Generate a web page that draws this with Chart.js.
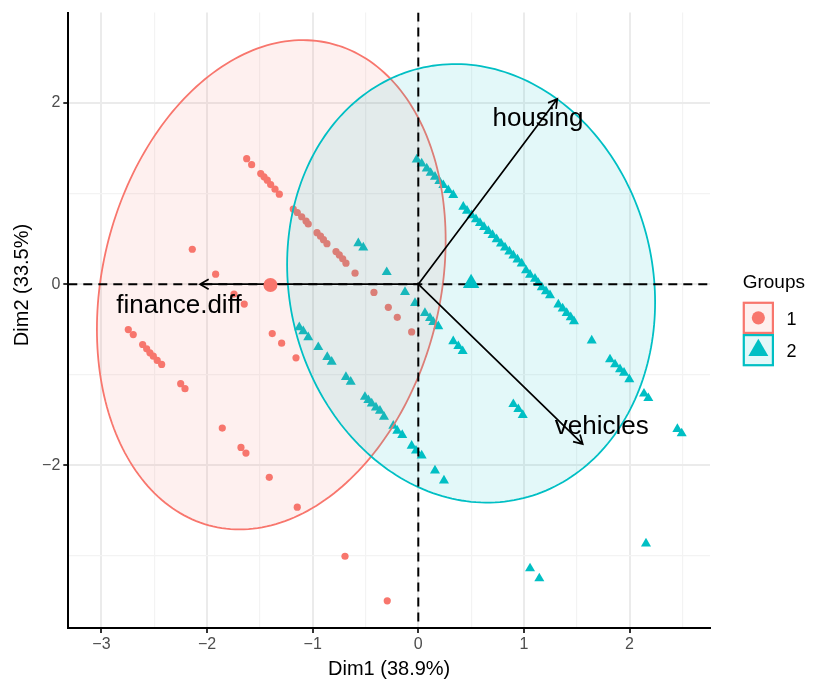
<!DOCTYPE html>
<html>
<head>
<meta charset="utf-8">
<script src="https://cdn.jsdelivr.net/npm/chart.js@4.4.1/dist/chart.umd.min.js"></script>
<style>
  html, body { margin: 0; padding: 0; background: #ffffff; }
  canvas { display: block; }
</style>
</head>
<body>
<canvas id="biplot" width="814" height="684"></canvas>
<script>
// Individual coordinates on the first two dimensions, group 1
const g1X = [-1.625, -1.578, -1.492, -1.461, -1.430, -1.398, -1.357, -1.316, -1.184, -1.146,
             -1.104, -1.063, -1.042, -0.959, -0.926, -0.898, -0.865, -0.779, -0.748, -0.716,
             -0.685, -0.599, -2.140, -1.919, -1.745, -1.648, -0.420, -0.284, -0.199, -0.063,
             -2.746, -2.699, -2.610, -2.572, -2.541, -2.509, -2.472, -2.430, -2.250, -2.209,
             -1.856, -1.679, -1.632, -1.411, -1.146, -0.694, -0.294, -1.383, -1.294, -1.158];
const g1Y = [1.385, 1.319, 1.220, 1.184, 1.147, 1.099, 1.048, 0.993, 0.829, 0.791,
             0.744, 0.697, 0.664, 0.568, 0.530, 0.491, 0.447, 0.359, 0.323, 0.279,
             0.231, 0.121, 0.385, 0.110, -0.110, -0.220, -0.091, -0.256, -0.366, -0.527,
             -0.501, -0.556, -0.666, -0.714, -0.758, -0.795, -0.842, -0.886, -1.099, -1.154,
             -1.589, -1.802, -1.864, -2.132, -2.462, -3.003, -3.495, -0.545, -0.652, -0.813];

// Individual coordinates, group 2
const g2X = [-0.015, 0.032, 0.080, 0.117, 0.158, 0.199, 0.237, 0.284, 0.331,
             0.426, 0.461, 0.504, 0.546, 0.584, 0.622, 0.663, 0.703, 0.742, 0.783,
             0.821, 0.862, 0.900, 0.939, 0.979, 1.020, 1.058, 1.105, 1.136, 1.169,
             1.209, 1.247, 1.326, 1.367, 1.405, 1.443, 1.474,
             1.642, 1.815, 1.863, 1.910, 1.948, 1.998, 2.137, 2.178, 2.453, 2.494,
             2.156, 1.058, 1.146, 0.900, 0.947, 0.989, 0.331, 0.379, 0.420,
             0.063, 0.111, 0.142, 0.189, -0.031, -0.126, -0.299, -0.568, -0.521,
             -1.127, -1.089, -1.042, -0.947, -0.862, -0.820, -0.685, -0.640, -0.505, -0.473,
             -0.441, -0.401, -0.363, -0.325, -0.237, -0.199, -0.152, -0.063, -0.022, 0.032,
             0.158, 0.243];
const g2Y = [1.374, 1.330, 1.275, 1.227, 1.184, 1.136, 1.092, 1.037, 0.982,
             0.854, 0.810, 0.760, 0.716, 0.673, 0.629, 0.585, 0.541, 0.495, 0.447,
             0.403, 0.359, 0.315, 0.271, 0.227, 0.151, 0.103, 0.059, 0.011, -0.036,
             -0.080, -0.124, -0.226, -0.270, -0.319, -0.366, -0.410,
             -0.622, -0.831, -0.886, -0.941, -0.978, -1.051, -1.209, -1.259, -1.600, -1.648,
             -2.864, -3.138, -3.248, -1.325, -1.380, -1.446, -0.630, -0.685, -0.740,
             -0.319, -0.374, -0.418, -0.465, -0.209, -0.088, 0.132, 0.451, 0.403,
             -0.476, -0.520, -0.586, -0.696, -0.805, -0.857, -1.025, -1.077, -1.245, -1.281,
             -1.319, -1.363, -1.399, -1.465, -1.564, -1.619, -1.665, -1.784, -1.838, -1.893,
             -2.058, -2.168];

// Group names and group mean points
const groupNames = ['1', '2'];
const centroidX = [-1.40, 0.50];
const centroidY = [-0.01, 0.01];

// Variable loadings (arrow tips) and their label anchors
const varNames = ['finance.diff', 'housing', 'vehicles'];
const varX = [-2.067, 1.316, 1.557];
const varY = [0.000, 2.044, -1.765];
const varLabelX = [-2.266, 1.133, 1.737];
const varLabelY = [-0.319, 1.744, -1.655];

// Concentration ellipses: centre and scaled covariance terms
const ellCx = [-1.392, 0.500];
const ellCy = [-0.007, 0.009];
const ellSxx = [2.726, 3.035];
const ellSxy = [0.810, -0.363];
const ellSyy = [7.290, 5.856];

// Axis ranges and labelled ticks
const xRange = [-3.314, 2.762];
const yRange = [-3.795, 2.997];
const xTickLabels = [-3, -2, -1, 0, 1, 2];
const yTickLabels = [-2, 0, 2];
const xTitle = 'Dim1 (38.9%)';
const yTitle = 'Dim2 (33.5%)';
const legendTitle = 'Groups';

const COLORS = ['#F8766D', '#00BFC4'];
const FONT = '"Liberation Sans", Arial, Helvetica, sans-serif';

function rgba(hex, a) {
  const n = parseInt(hex.slice(1), 16);
  return `rgba(${(n >> 16) & 255},${(n >> 8) & 255},${n & 255},${a})`;
}
function fmt(v) {
  return v < 0 ? '\u2212' + Math.abs(v) : String(v);
}
function isLabelled(v, list) {
  return list.some(t => Math.abs(t - v) < 1e-9);
}
function toPoints(xs, ys) {
  return xs.map((x, i) => ({ x: x, y: ys[i] }));
}

function drawArrow(ctx, x0, y0, x1, y1) {
  const ang = Math.atan2(y1 - y0, x1 - x0);
  const len = 10, spread = Math.PI / 6;
  ctx.beginPath();
  ctx.moveTo(x0, y0);
  ctx.lineTo(x1, y1);
  ctx.moveTo(x1 - len * Math.cos(ang - spread), y1 - len * Math.sin(ang - spread));
  ctx.lineTo(x1, y1);
  ctx.lineTo(x1 - len * Math.cos(ang + spread), y1 - len * Math.sin(ang + spread));
  ctx.stroke();
}

// Ellipses, zero lines and variable arrows go between the individuals and the mean points
const biplotLayers = {
  id: 'biplotLayers',
  beforeDatasetDraw(chart, args) {
    if (args.index !== 2) return;
    const { ctx, chartArea: ca } = chart;
    const sx = chart.scales.x, sy = chart.scales.y;
    ctx.save();
    ctx.beginPath();
    ctx.rect(ca.left, ca.top, ca.right - ca.left, ca.bottom - ca.top);
    ctx.clip();

    for (let g = 0; g < 2; g++) {
      const l11 = Math.sqrt(ellSxx[g]);
      const l21 = ellSxy[g] / l11;
      const l22 = Math.sqrt(ellSyy[g] - l21 * l21);
      ctx.beginPath();
      const steps = 240;
      for (let i = 0; i <= steps; i++) {
        const t = (i / steps) * Math.PI * 2;
        const dx = l11 * Math.cos(t);
        const dy = l21 * Math.cos(t) + l22 * Math.sin(t);
        const px = sx.getPixelForValue(ellCx[g] + dx);
        const py = sy.getPixelForValue(ellCy[g] + dy);
        if (i === 0) ctx.moveTo(px, py); else ctx.lineTo(px, py);
      }
      ctx.closePath();
      ctx.fillStyle = rgba(COLORS[g], 0.11);
      ctx.fill();
      ctx.strokeStyle = COLORS[g];
      ctx.lineWidth = 1.8;
      ctx.stroke();
    }

    const x0 = sx.getPixelForValue(0), y0 = sy.getPixelForValue(0);
    ctx.setLineDash([9, 6]);
    ctx.strokeStyle = '#000000';
    ctx.lineWidth = 2;
    ctx.beginPath();
    ctx.moveTo(ca.left, y0); ctx.lineTo(ca.right, y0);
    ctx.moveTo(x0, ca.top); ctx.lineTo(x0, ca.bottom);
    ctx.stroke();
    ctx.setLineDash([]);

    ctx.lineWidth = 1.7;
    ctx.lineCap = 'butt';
    for (let i = 0; i < varNames.length; i++) {
      drawArrow(ctx, x0, y0, sx.getPixelForValue(varX[i]), sy.getPixelForValue(varY[i]));
    }
    ctx.restore();
  },
  afterDraw(chart) {
    const { ctx } = chart;
    const sx = chart.scales.x, sy = chart.scales.y;
    ctx.save();
    // variable names
    ctx.fillStyle = '#000000';
    ctx.font = `26px ${FONT}`;
    ctx.textAlign = 'center';
    ctx.textBaseline = 'alphabetic';
    for (let i = 0; i < varNames.length; i++) {
      ctx.fillText(varNames[i], sx.getPixelForValue(varLabelX[i]), sy.getPixelForValue(varLabelY[i]));
    }

    // y axis title
    ctx.save();
    ctx.translate(22, 285);
    ctx.rotate(-Math.PI / 2);
    ctx.font = `20px ${FONT}`;
    ctx.textAlign = 'center';
    ctx.textBaseline = 'middle';
    ctx.fillText(yTitle, 0, 0);
    ctx.restore();

    // legend
    const lx = 742.7, ly = 301.7, kw = 31.3, kh = 32.3;
    ctx.textAlign = 'left';
    ctx.font = `19px ${FONT}`;
    ctx.fillText(legendTitle, lx, 288.3);
    for (let g = 0; g < groupNames.length; g++) {
      const top = ly + g * kh;
      ctx.fillStyle = '#ffffff';
      ctx.fillRect(lx, top, kw, kh);
      ctx.fillStyle = rgba(COLORS[g], 0.11);
      ctx.fillRect(lx, top, kw, kh);
      ctx.strokeStyle = COLORS[g];
      ctx.lineWidth = 2.2;
      ctx.strokeRect(lx + 1.1, top + 1.1, kw - 2.2, kh - 2.2);
      const cx = lx + kw / 2, cy = top + kh / 2;
      ctx.fillStyle = COLORS[g];
      ctx.beginPath();
      if (g === 0) {
        ctx.arc(cx, cy, 6.6, 0, Math.PI * 2);
      } else {
        const r = 11.5;
        ctx.moveTo(cx, cy - r);
        ctx.lineTo(cx + r * Math.sin(Math.PI / 3), cy + r / 2);
        ctx.lineTo(cx - r * Math.sin(Math.PI / 3), cy + r / 2);
        ctx.closePath();
      }
      ctx.fill();
      ctx.fillStyle = '#000000';
      ctx.font = `18px ${FONT}`;
      ctx.textBaseline = 'middle';
      ctx.fillText(groupNames[g], 786.5, cy + 2);
      ctx.textBaseline = 'alphabetic';
    }
    ctx.restore();
  }
};

const majorGrid = '#EBEBEB';
const minorGrid = '#F3F3F3';

new Chart(document.getElementById('biplot'), {
  type: 'scatter',
  data: {
    datasets: [
      {
        label: groupNames[0],
        data: toPoints(g1X, g1Y),
        pointStyle: 'circle',
        pointRadius: 3.6,
        pointBorderWidth: 0,
        backgroundColor: COLORS[0],
        borderColor: COLORS[0],
        order: 4
      },
      {
        label: groupNames[1],
        data: toPoints(g2X, g2Y),
        pointStyle: 'triangle',
        pointRadius: 5.8,
        pointBorderWidth: 0,
        backgroundColor: COLORS[1],
        borderColor: COLORS[1],
        order: 3
      },
      {
        label: groupNames[0] + ' mean',
        data: [{ x: centroidX[0], y: centroidY[0] }],
        pointStyle: 'circle',
        pointRadius: 7,
        pointBorderWidth: 0,
        backgroundColor: COLORS[0],
        borderColor: COLORS[0],
        order: 2
      },
      {
        label: groupNames[1] + ' mean',
        data: [{ x: centroidX[1], y: centroidY[1] }],
        pointStyle: 'triangle',
        pointRadius: 9.5,
        pointBorderWidth: 0,
        backgroundColor: COLORS[1],
        borderColor: COLORS[1],
        order: 1
      }
    ]
  },
  options: {
    responsive: false,
    animation: false,
    devicePixelRatio: 1,
    layout: { padding: { top: 10, right: 104, left: 0, bottom: 0 } },
    plugins: {
      legend: { display: false },
      tooltip: { enabled: false }
    },
    scales: {
      x: {
        type: 'linear',
        position: 'bottom',
        min: xRange[0],
        max: xRange[1],
        afterFit(scale) { scale.height = 56; },
        ticks: {
          stepSize: 0.5,
          includeBounds: false,
          autoSkip: false,
          maxRotation: 0,
          padding: 2,
          color: '#4D4D4D',
          font: { family: FONT, size: 16 },
          callback: v => isLabelled(v, xTickLabels) ? fmt(Math.round(v)) : ''
        },
        grid: {
          color: c => (c.tick && isLabelled(c.tick.value, xTickLabels)) ? majorGrid : minorGrid,
          lineWidth: c => (c.tick && isLabelled(c.tick.value, xTickLabels)) ? 2 : 1.2,
          tickColor: c => (c.tick && isLabelled(c.tick.value, xTickLabels)) ? '#333333' : 'rgba(0,0,0,0)',
          tickWidth: 2,
          tickLength: 5
        },
        border: { display: true, color: '#000000', width: 2 },
        title: {
          display: true,
          text: xTitle,
          color: '#000000',
          font: { family: FONT, size: 20 },
          padding: { top: 0, bottom: 3 }
        }
      },
      y: {
        type: 'linear',
        position: 'left',
        min: yRange[0],
        max: yRange[1],
        afterFit(scale) { scale.width = 68.3; },
        ticks: {
          stepSize: 1,
          includeBounds: false,
          autoSkip: false,
          padding: 3,
          color: '#4D4D4D',
          font: { family: FONT, size: 16 },
          callback: v => isLabelled(v, yTickLabels) ? fmt(Math.round(v)) : ''
        },
        grid: {
          color: c => (c.tick && isLabelled(c.tick.value, yTickLabels)) ? majorGrid : minorGrid,
          lineWidth: c => (c.tick && isLabelled(c.tick.value, yTickLabels)) ? 2 : 1.2,
          tickColor: c => (c.tick && isLabelled(c.tick.value, yTickLabels)) ? '#333333' : 'rgba(0,0,0,0)',
          tickWidth: 2,
          tickLength: 5
        },
        border: { display: true, color: '#000000', width: 2 },
        title: { display: false }
      }
    }
  },
  plugins: [biplotLayers]
});
</script>
</body>
</html>
